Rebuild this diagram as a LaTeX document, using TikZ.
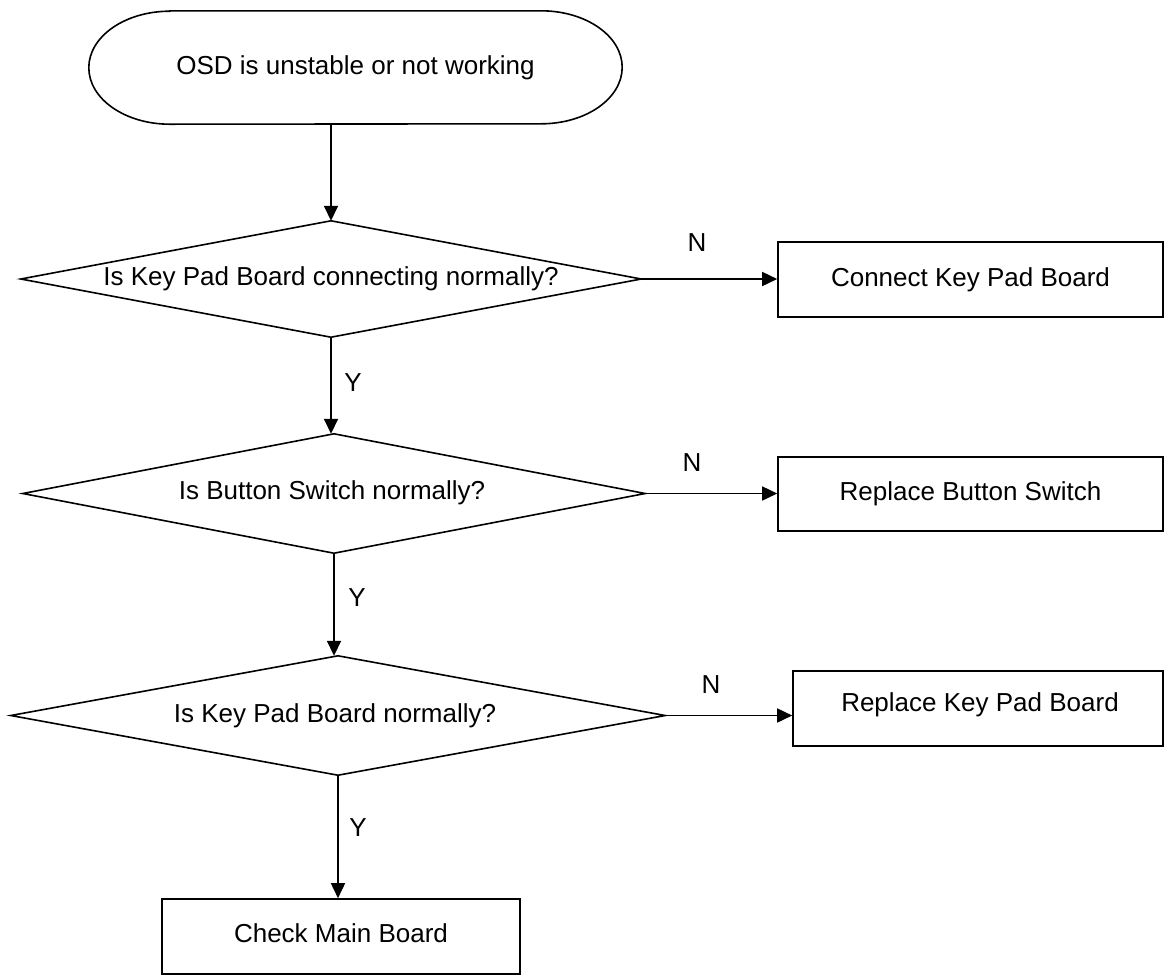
\documentclass[tikz,border=0pt]{standalone}
\usepackage{fontspec}
\setmainfont{Liberation Sans}
\usetikzlibrary{arrows.meta}
\begin{document}
\begin{tikzpicture}[x=1pt,y=-1pt,
  every node/.style={font=\fontsize{26}{30}\selectfont},
  frame/.style={line width=1.6pt, draw=black},
  process/.style={frame, rectangle, inner sep=0pt},
  slot/.style={rectangle, draw=none, inner sep=0pt},
  lbl/.style={inner sep=0pt},
  flow/.style={line width=1.6pt, -{Triangle[length=15pt,width=14pt]}}]
\useasboundingbox (0,0) rectangle (1174,978);

% start terminal (elliptical ends)
\node[slot, minimum width=533pt, minimum height=113pt] (start) at (355.5,67.5) {OSD is unstable or not working};
\draw[frame] ([xshift=81pt]start.north west) -- ([xshift=-81pt]start.north east)
  arc[start angle=90, end angle=-90, x radius=81pt, y radius=56.5pt]
  -- ([xshift=81pt]start.south west)
  arc[start angle=270, end angle=90, x radius=81pt, y radius=56.5pt] -- cycle;

% decisions
\node[slot, minimum width=620pt, minimum height=116pt] (d1) at (331,279) {};
\node at (331,279) (t1) {Is Key Pad Board connecting normally?};
\node[slot, minimum width=622pt, minimum height=119pt] (d2) at (334,493.5) {};
\node at (332,493) (t2) {Is Button Switch normally?};
\node[slot, minimum width=654pt, minimum height=119pt] (d3) at (338,715.5) {};
\node at (335,716) (t3) {Is Key Pad Board normally?};
\foreach \d in {d1,d2,d3}
  \draw[frame] (\d.west) -- (\d.north) -- (\d.east) -- (\d.south) -- cycle;

% actions
\node[process, minimum width=385pt, minimum height=75pt] (b1) at (970.5,279.5) {Connect Key Pad Board};
\node[process, minimum width=385pt, minimum height=74pt] (b2) at (970.5,494) {Replace Button Switch};
\node[process, minimum width=370pt, minimum height=75pt] (b3) at (978,708.5) {};
\node at (980,705) (t4) {Replace Key Pad Board};
\node[process, minimum width=358pt, minimum height=75pt] (b4) at (341,936.5) {};
\node at (341,933) (t5) {Check Main Board};

% connectors
\draw[flow] (d1.north |- start.south) -- (d1.north);
\draw[flow] (d1.east) -- (b1.west |- d1.east);
\draw[flow] (d1.south) -- (d1.south |- d2.north);
\draw[flow] (d2.east) -- (b2.west |- d2.east);
\draw[flow] (d2.south) -- (d2.south |- d3.north);
\draw[flow] (d3.east) -- (b3.west |- d3.east);
\draw[flow] (d3.south) -- (d3.south |- b4.north);

% branch labels
\node[lbl] (n1) at (697,243) {N};
\node[lbl] (n2) at (692,463) {N};
\node[lbl] (n3) at (711,685) {N};
\node[lbl] (y1) at (353,383) {Y};
\node[lbl] (y2) at (357,598) {Y};
\node[lbl] (y3) at (358,828) {Y};
\end{tikzpicture}
\end{document}
